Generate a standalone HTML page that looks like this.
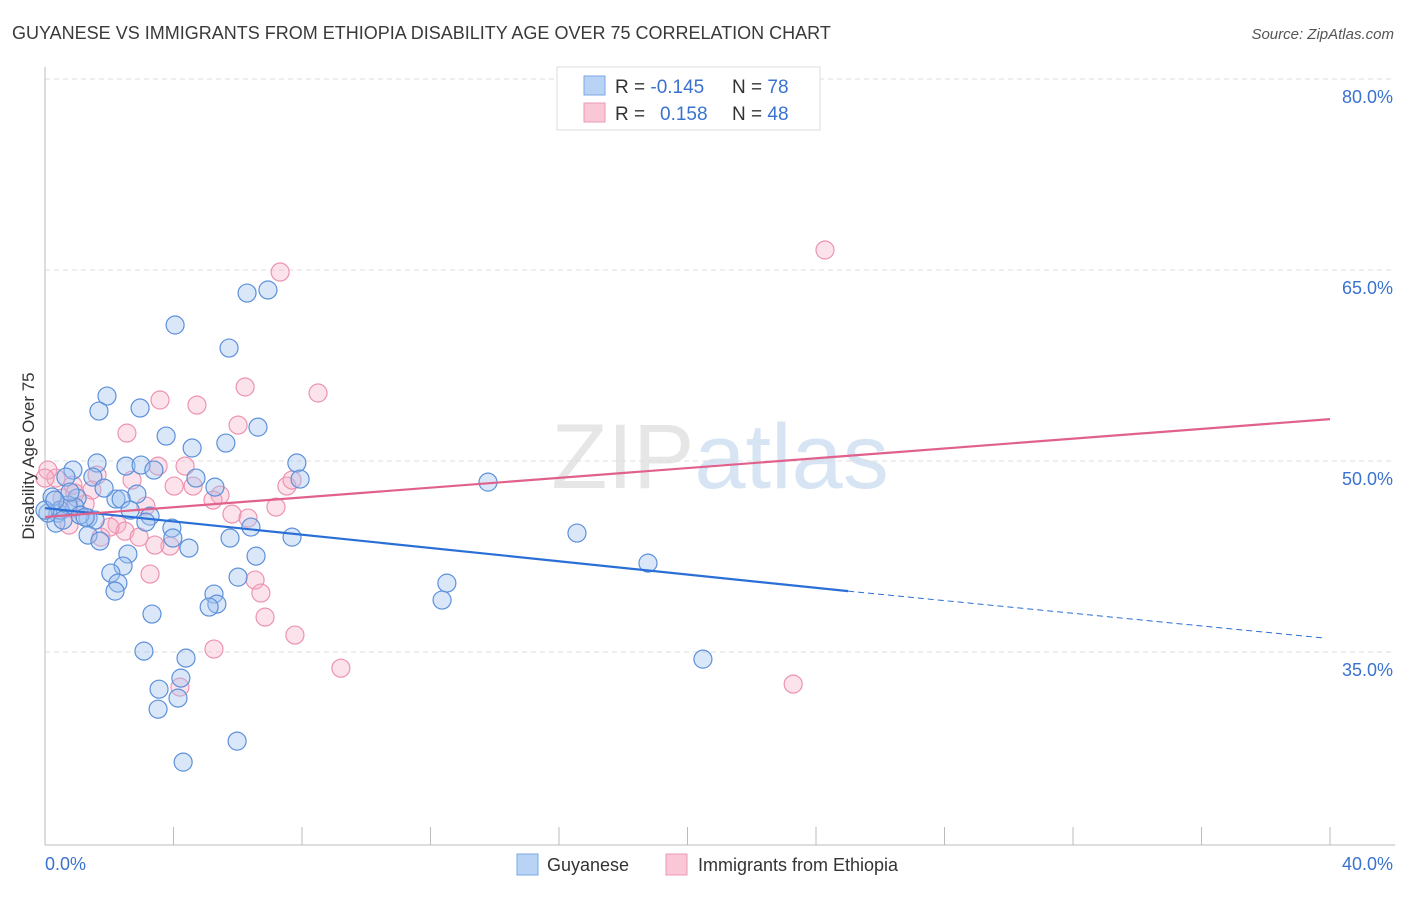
<!DOCTYPE html>
<html><head><meta charset="utf-8"><style>
body{margin:0;background:#fff;font-family:"Liberation Sans",sans-serif;}
svg text{font-family:"Liberation Sans",sans-serif;}
</style></head><body>
<svg id="chart" width="1406" height="892" viewBox="0 0 1406 892" xmlns="http://www.w3.org/2000/svg">
<text x="12" y="39" font-size="18" fill="#3a3a3a">GUYANESE VS IMMIGRANTS FROM ETHIOPIA DISABILITY AGE OVER 75 CORRELATION CHART</text>
<text x="1394" y="39" font-size="15" fill="#555" font-style="italic" text-anchor="end">Source: ZipAtlas.com</text>
<text x="720" y="488" font-size="92" text-anchor="middle" fill="#e6e6e6" font-family="Liberation Serif"><tspan>ZIP</tspan><tspan fill="#d6e4f4" font-family="Liberation Sans">atlas</tspan></text>
<g id="grid"></g>
<g id="axes"></g>
<g id="marks"></g>
<text transform="translate(34,456) rotate(-90)" font-size="17" fill="#333" text-anchor="middle">Disability Age Over 75</text>
<g>
<rect x="557" y="67" width="263" height="63" fill="#fff" stroke="#ddd"/>
<rect x="584" y="76" width="21" height="19" fill="#b9d3f5" stroke="#7aa7e6"/>
<rect x="584" y="103" width="21" height="19" fill="#f9c7d6" stroke="#eb9ab4"/>
<text x="615" y="93" font-size="19" fill="#333">R = <tspan fill="#3a72d0">-0.145</tspan></text>
<text x="732" y="93" font-size="19" fill="#333">N = <tspan fill="#3a72d0">78</tspan></text>
<text x="615" y="120" font-size="19" fill="#333">R = <tspan fill="#3a72d0" x="660">0.158</tspan></text>
<text x="732" y="120" font-size="19" fill="#333">N = <tspan fill="#3a72d0">48</tspan></text>
</g>
<g>
<rect x="517" y="854" width="21" height="21" fill="#b9d3f5" stroke="#7aa7e6"/>
<text x="547" y="871" font-size="18" fill="#333">Guyanese</text>
<rect x="666" y="854" width="21" height="21" fill="#f9c7d6" stroke="#eb9ab4"/>
<text x="698" y="871" font-size="18" fill="#333">Immigrants from Ethiopia</text>
</g>
</svg>
<script>
const yTicks=[35,50,65,80];
const yTickLabels=["35.0%","50.0%","65.0%","80.0%"];
const xTickCount=10;
const xEndLabels=["0.0%","40.0%"];
const guyX=[4.05,6.29,6.94,5.73,1.93,1.68,2.96,3.77,4.58,5.63,6.63,1.62,2.52,2.99,3.39,0.87,0.65,1.49,4.70,5.29,7.84,7.94,13.79,2.86,2.21,2.37,1.00,1.84,2.65,3.27,3.14,0.93,0.40,1.34,1.56,0.34,3.95,1.34,3.98,1.71,5.76,6.41,7.69,4.48,2.58,6.57,2.43,2.05,2.27,2.18,6.01,5.26,5.35,5.11,3.33,12.51,12.36,16.56,18.77,20.48,3.08,4.39,4.23,3.55,4.14,3.52,5.98,4.30,0.22,0.09,0.47,0.72,1.09,1.25,0.00,0.56,0.78,0.31];
const guyY=[60.68,63.19,63.43,58.87,55.10,53.92,54.16,51.96,51.02,51.41,52.66,49.84,49.60,49.68,49.29,49.29,48.74,48.74,48.66,47.95,49.84,48.58,48.34,47.40,47.01,47.01,47.09,47.87,46.14,45.67,45.20,46.38,45.91,45.52,45.36,45.12,44.73,44.18,43.95,43.71,43.95,44.81,44.02,43.16,42.69,42.53,41.75,41.20,40.41,39.78,40.88,39.55,38.76,38.53,37.98,40.41,39.08,44.34,41.98,34.44,35.07,34.52,32.95,32.08,31.38,30.51,28.00,26.35,47.17,45.91,46.14,46.54,45.75,45.59,46.14,45.36,47.56,46.93];
const ethX=[7.32,24.28,6.23,8.50,3.58,4.73,2.55,6.01,4.36,3.52,2.71,1.46,4.02,4.61,5.45,5.23,7.53,7.69,7.19,5.82,6.32,3.14,2.24,2.49,1.74,2.02,2.93,3.89,3.42,0.75,0.53,0.87,0.34,0.09,1.25,3.27,6.54,6.72,6.85,7.78,5.26,9.21,4.20,23.29,1.62,0.93,0.00,0.72];
const ethY=[64.84,66.57,55.81,55.34,54.79,54.39,52.19,52.82,49.60,49.60,48.50,47.72,48.03,48.03,47.32,46.93,48.03,48.50,46.38,45.83,45.52,46.46,45.04,44.49,44.02,44.81,44.02,43.32,43.40,44.97,47.09,48.11,48.66,49.29,46.62,41.12,40.65,39.63,37.74,36.33,35.23,33.73,32.24,32.48,48.89,47.48,48.66,46.30];
const guyTrend=[[0,46.3],[25,39.78]];
const guyTrendExt=[[25,39.78],[39.85,36.09]];
const ethTrend=[[0,45.6],[40,53.29]];

const NS="http://www.w3.org/2000/svg";
const X0=45,X1=1330,YTOP=79,YBOT=845;
function sx(v){return X0+(v/40)*(X1-X0);}
function sy(v){return YTOP+(80-v)*(191/15);}
function mk(tag,attrs,parent){const e=document.createElementNS(NS,tag);for(const k in attrs)e.setAttribute(k,attrs[k]);parent.appendChild(e);return e;}
const grid=document.getElementById('grid'),axes=document.getElementById('axes'),marks=document.getElementById('marks');
yTicks.forEach((t,i)=>{
  const l=mk('line',{x1:X0,x2:1395,y1:sy(t),y2:sy(t),stroke:'#ddd','stroke-dasharray':'5,4'},grid);
  
  
  const tx=mk('text',{x:1393,y:sy(t)+24,'font-size':18,fill:'#3a72d0','text-anchor':'end'},axes);
  tx.textContent=yTickLabels[i];
  
  
});
const ax=mk('line',{x1:X0,x2:1395,y1:YBOT,y2:YBOT,stroke:'#bbb'},axes);


const ay=mk('line',{x1:X0,x2:X0,y1:67,y2:YBOT,stroke:'#bbb'},axes);


for(let i=0;i<=xTickCount;i++){
  const v=i*40/xTickCount;
  const t=mk('line',{x1:sx(v),x2:sx(v),y1:827,y2:YBOT,stroke:'#bbb'},axes);
  
  
}
const xl0=mk('text',{x:45,y:870,'font-size':18,fill:'#3a72d0'},axes);xl0.textContent=xEndLabels[0];


const xl1=mk('text',{x:1393,y:870,'font-size':18,fill:'#3a72d0','text-anchor':'end'},axes);xl1.textContent=xEndLabels[1];



ethX.forEach((x,i)=>{
  const c=mk('circle',{cx:sx(x),cy:sy(ethY[i]),r:9,fill:'rgba(246,176,198,0.35)',stroke:'#ec93b0','stroke-width':1.2},marks);
  
  
});
guyX.forEach((x,i)=>{
  const c=mk('circle',{cx:sx(x),cy:sy(guyY[i]),r:9,fill:'rgba(160,196,240,0.4)',stroke:'#5d90da','stroke-width':1.2},marks);
  
  
});
const tl1=mk('line',{x1:sx(guyTrend[0][0]),y1:sy(guyTrend[0][1]),x2:sx(guyTrend[1][0]),y2:sy(guyTrend[1][1]),stroke:'#2a6fd6','stroke-width':2.2},marks);


const tl2=mk('line',{x1:sx(guyTrendExt[0][0]),y1:sy(guyTrendExt[0][1]),x2:sx(guyTrendExt[1][0]),y2:sy(guyTrendExt[1][1]),stroke:'#2a6fd6','stroke-width':1,'stroke-dasharray':'6,4'},marks);


const tl3=mk('line',{x1:sx(ethTrend[0][0]),y1:sy(ethTrend[0][1]),x2:sx(ethTrend[1][0]),y2:sy(ethTrend[1][1]),stroke:'#e0628c','stroke-width':2.2},marks);


</script>
</body></html>
